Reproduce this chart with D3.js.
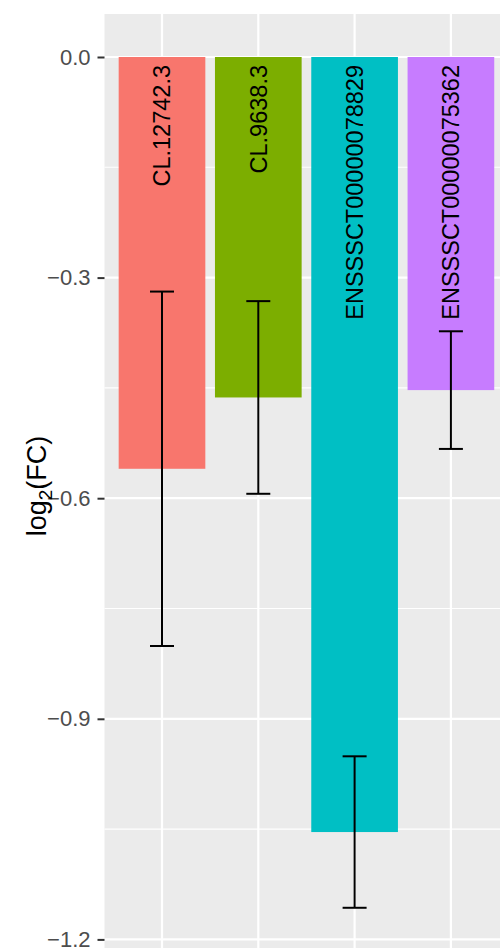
<!DOCTYPE html>
<html>
<head>
<meta charset="utf-8">
<script src="https://cdn.jsdelivr.net/npm/d3@7"></script>
<style>
  body { margin: 0; background: #fff; }
  svg { display: block; font-family: "Liberation Sans", Arial, sans-serif; }
</style>
</head>
<body>
<div id="chart"></div>
<script>
"use strict";

var genes = ["CL.12742.3", "CL.9638.3", "ENSSSCT00000078829", "ENSSSCT00000075362"];
var log2fc = [-0.560, -0.463, -1.054, -0.453];
var se = [0.241, 0.131, 0.103, 0.080];
var colors = ["#F8766D", "#7CAE00", "#00BFC4", "#C77CFF"];
var yTicks = [0, -0.3, -0.6, -0.9, -1.2];
var yMinor = [-0.15, -0.45, -0.75, -1.05];

var data = genes.map(function(g, i) {
  return { gene: g, value: log2fc[i], se: se[i], color: colors[i] };
});

var width = 500, height = 948;
var panel = { left: 104.5, top: 14, right: 510, bottom: 960 };

var svg = d3.select("#chart").append("svg")
  .attr("width", width)
  .attr("height", height);

// scales
var x = d3.scaleBand().domain(genes).range([113.85, 499.05])
  .paddingInner(0.1).paddingOuter(0.05);
var y = d3.scaleLinear().domain([0, -1.2]).range([57, 939.4]);

// panel + grid
svg.append("rect")
  .attr("x", panel.left).attr("y", panel.top)
  .attr("width", panel.right - panel.left).attr("height", panel.bottom - panel.top)
  .attr("fill", "#EBEBEB");

svg.selectAll(".minor").data(yMinor).enter().append("line")
  .attr("x1", panel.left).attr("x2", panel.right)
  .attr("y1", function(d) { return y(d); }).attr("y2", function(d) { return y(d); })
  .attr("stroke", "#fff").attr("stroke-width", 1.1);

svg.selectAll(".major").data(yTicks).enter().append("line")
  .attr("x1", panel.left).attr("x2", panel.right)
  .attr("y1", function(d) { return y(d); }).attr("y2", function(d) { return y(d); })
  .attr("stroke", "#fff").attr("stroke-width", 2.2);

svg.selectAll(".vgrid").data(genes).enter().append("line")
  .attr("x1", function(d) { return x(d) + x.bandwidth() / 2; })
  .attr("x2", function(d) { return x(d) + x.bandwidth() / 2; })
  .attr("y1", panel.top).attr("y2", panel.bottom)
  .attr("stroke", "#fff").attr("stroke-width", 2.2);

// bars
svg.selectAll(".bar").data(data).enter().append("rect")
  .attr("x", function(d) { return x(d.gene); })
  .attr("y", y(0))
  .attr("width", x.bandwidth())
  .attr("height", function(d) { return y(d.value) - y(0); })
  .attr("fill", function(d) { return d.color; });

// error bars
var eb = svg.selectAll(".err").data(data).enter().append("g")
  .attr("transform", function(d) { return "translate(" + (x(d.gene) + x.bandwidth() / 2) + ",0)"; });
eb.append("line")
  .attr("y1", function(d) { return y(d.value + d.se); })
  .attr("y2", function(d) { return y(d.value - d.se); })
  .attr("stroke", "#000").attr("stroke-width", 2);
eb.append("line")
  .attr("x1", -12).attr("x2", 12)
  .attr("y1", function(d) { return y(d.value + d.se); })
  .attr("y2", function(d) { return y(d.value + d.se); })
  .attr("stroke", "#000").attr("stroke-width", 2);
eb.append("line")
  .attr("x1", -12).attr("x2", 12)
  .attr("y1", function(d) { return y(d.value - d.se); })
  .attr("y2", function(d) { return y(d.value - d.se); })
  .attr("stroke", "#000").attr("stroke-width", 2);

// gene labels inside bars
svg.selectAll(".lab").data(data).enter().append("text")
  .attr("transform", function(d) {
    return "translate(" + (x(d.gene) + x.bandwidth() / 2) + "," + 65 + ") rotate(-90)";
  })
  .attr("text-anchor", "end")
  .attr("dy", "0.35em")
  .attr("font-size", 23.5)
  .attr("fill", "#000")
  .text(function(d) { return d.gene; });

// y axis
var yAxis = d3.axisLeft(y).tickValues(yTicks).tickSize(7).tickPadding(7)
  .tickFormat(function(d) { return d3.format(".1f")(d).replace("-", "\u2212"); });
var ax = svg.append("g")
  .attr("transform", "translate(" + panel.left + ",0)")
  .call(yAxis);
ax.select(".domain").remove();
ax.selectAll(".tick line").attr("stroke", "#333333").attr("stroke-width", 2);
ax.selectAll(".tick text").attr("fill", "#4D4D4D").attr("font-size", 22)
  .attr("font-family", "Liberation Sans, Arial, sans-serif");

// axis title
var title = svg.append("text")
  .attr("transform", "translate(46,486) rotate(-90)")
  .attr("text-anchor", "middle")
  .attr("font-size", 27)
  .attr("fill", "#000");
title.append("tspan").text("log");
title.append("tspan").attr("font-size", 19).attr("dy", 6).text("2");
title.append("tspan").attr("dy", -6).text("(FC)");
</script>
</body>
</html>
